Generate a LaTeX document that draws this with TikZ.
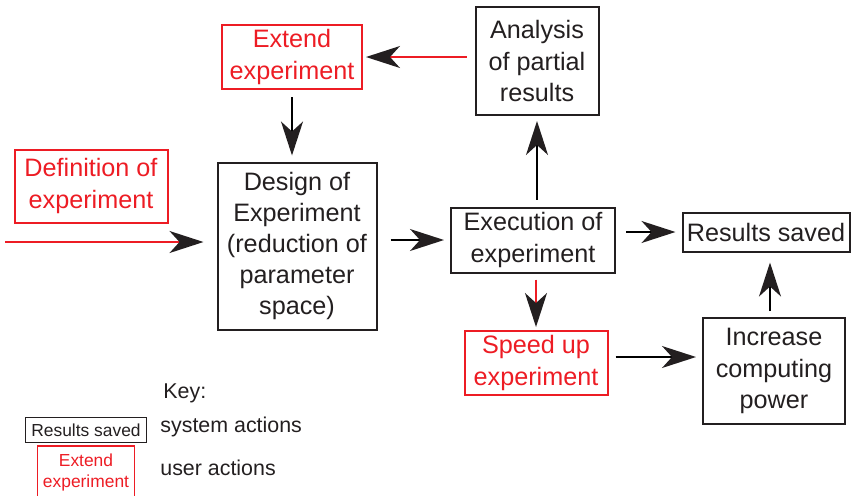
\documentclass[tikz,border=0pt]{standalone}
\usepackage{fontspec}
\setmainfont{Liberation Sans}
\usetikzlibrary{positioning}
\usetikzlibrary{arrows.meta}
\definecolor{userred}{RGB}{237,28,36}
\definecolor{inkblack}{RGB}{35,31,32}
\tikzstyle{arrow} = [line width=0.8pt, -{Stealth[length=17pt, width=11pt, inset=5pt, inkblack]}]
\tikzstyle{sysbox} = [draw=inkblack, text=inkblack, line width=1pt, align=center, inner sep=0pt, font=\fontsize{12.6}{15.6}\selectfont]
\tikzstyle{userbox} = [sysbox, draw=userred, text=userred]
\tikzstyle{keybox} = [draw=inkblack, text=inkblack, line width=0.8pt, align=center, inner sep=0pt, font=\fontsize{8.7}{10.5}\selectfont]
\tikzstyle{keytext} = [text=inkblack, inner sep=0pt, anchor=west, font=\fontsize{10.7}{13}\selectfont]

\begin{document}
\begin{tikzpicture}[x=0.5pt, y=-0.5pt]
  \useasboundingbox (0,0) rectangle (852,495);

  % Boxes
  \node[userbox, minimum width=70pt, minimum height=32pt] (extend) at (292,57) {Extend\\experiment};
  \node[sysbox, minimum width=61.5pt, minimum height=54pt] (analysis) at (537,61) {Analysis\\of partial\\results};
  \node[userbox, minimum width=76.5pt, minimum height=36.5pt] (definition) at (91,186) {Definition of\\experiment};
  \node[sysbox, minimum width=79.5pt, minimum height=83.5pt] (design) at (297,246) {Design of\\Experiment\\(reduction of\\parameter\\space)};
  \node[sysbox, minimum width=82pt, minimum height=32.5pt] (execution) at (533,240) {Execution of\\experiment};
  \node[sysbox, minimum width=83.5pt, minimum height=19.5pt] (results) at (766,232) {Results saved};
  \node[userbox, minimum width=71.5pt, minimum height=32pt] (speedup) at (536,363) {Speed up\\experiment};
  \node[sysbox, minimum width=71pt, minimum height=53pt] (increase) at (774,371) {Increase\\computing\\power};
  \coordinate (defstart) at (5,242);

  % Arrows
  \draw[arrow, userred, shorten <=4pt, shorten >=1.5pt] (analysis.west |- extend.east) -- (extend.east);
  \draw[arrow, shorten <=3.5pt, shorten >=3pt] (extend.south) -- (extend.south |- design.north);
  \draw[arrow, userred, shorten >=6.5pt] (defstart) -- (design.west |- defstart);
  \draw[arrow, shorten <=6.5pt, shorten >=3pt] (design.east |- execution.west) -- (execution.west);
  \draw[arrow, shorten <=3.5pt, shorten >=2.5pt] (analysis.south |- execution.north) -- (analysis.south);
  \draw[arrow, shorten <=5pt, shorten >=3pt] (execution.east |- results.west) -- (results.west);
  \draw[arrow, userred, shorten <=3pt, shorten >=1.5pt] (speedup.north |- execution.south) -- (speedup.north);
  \draw[arrow, shorten <=3.5pt, shorten >=3pt] ([yshift=3pt]speedup.east) -- ([yshift=3pt]speedup.east -| increase.west);
  \draw[arrow, shorten <=3pt, shorten >=5pt] ([xshift=-2pt]increase.north) -- ([xshift=-2pt]increase.north |- results.south);

  % Key
  \node[keytext] (key) at (163,393) {Key:};
  \node[keybox, minimum width=60.5pt, minimum height=12.5pt] (keysys) at (86,430) {Results saved};
  \node[keybox, draw=userred, text=userred, minimum width=48.5pt, minimum height=26pt] (keyuser) at (86,472) {Extend\\experiment};
  \node[keytext] (systext) at (160,427) {system actions};
  \node[keytext] (usertext) at (160,468) {user actions};
\end{tikzpicture}
\end{document}
